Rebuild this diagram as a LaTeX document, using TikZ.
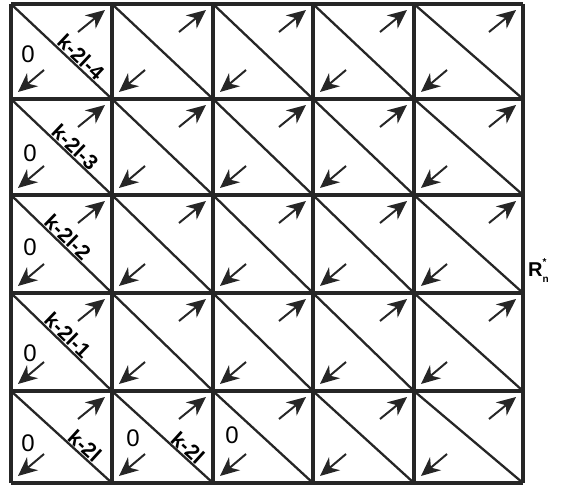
\documentclass[tikz,border=0pt]{standalone}
\usepackage{fontspec}
\setmainfont{Liberation Sans}
\usetikzlibrary{arrows.meta,calc}

\begin{document}
\begin{tikzpicture}[
        x=1pt, y=-1pt,
        gridline/.style={draw=black!85, line width=3.2pt},
        diagline/.style={draw=black!85, line width=2.3pt},
        flow/.style={draw=black!85, line width=2pt, -{Stealth[length=19pt, width=17pt, inset=6pt]}},
        zero/.style={font=\fontsize{24}{24}\selectfont, inner sep=0pt},
        idx/.style={font=\bfseries\fontsize{21}{21}\selectfont, sloped, above, inner sep=1.5pt}
    ]
    \useasboundingbox (0,0) rectangle (572,486);

    % Grid corners
    \foreach \x [count=\i] in {11,112,213,313,414,523} {
      \foreach \y [count=\j] in {4,99,195,293,391,483} {
        \coordinate (c\i\j) at (\x,\y);
      }
    }

    % Cells: diagonal and the two arrows
    \foreach \i [evaluate=\i as \ni using int(\i+1)] in {1,...,5} {
      \foreach \j [evaluate=\j as \nj using int(\j+1)] in {1,...,5} {
        \draw[diagline] (c\i\j) -- (c\ni\nj);
        \draw[flow] ($(c\ni\j)+(-34,28)$) -- ($(c\ni\j)+(-7,6)$);
        \draw[flow] ($(c\i\nj)+(33,-29)$) -- ($(c\i\nj)+(7,-7)$);
      }
    }

    % Grid lines
    \foreach \i in {1,...,6}
      \draw[gridline] (c\i1) -- (c\i6);
    \foreach \j in {1,...,6}
      \draw[gridline] (c1\j) -- (c6\j);

    % Diagonal labels
    \path (c11) -- (c22) node[idx, pos=0.63] (d1) {k-2l-4};
    \path (c12) -- (c23) node[idx, pos=0.57] (d2) {k-2l-3};
    \path (c13) -- (c24) node[idx, pos=0.50] (d3) {k-2l-2};
    \path (c14) -- (c25) node[idx, pos=0.50] (d4) {k-2l-1};
    \path (c15) -- (c26) node[idx, pos=0.67] (d5) {k-2l};
    \path (c25) -- (c36) node[idx, pos=0.69] (d6) {k-2l};

    % Zeros
    \node[zero] (z1) at ($(c11)+(17,50)$) {0};
    \node[zero] (z2) at ($(c12)+(19,54)$) {0};
    \node[zero] (z3) at ($(c13)+(19,52)$) {0};
    \node[zero] (z4) at ($(c14)+(19,60)$) {0};
    \node[zero] (z5) at ($(c15)+(17,52)$) {0};
    \node[zero] (z6) at ($(c25)+(21,47)$) {0};
    \node[zero] (z7) at ($(c35)+(19,44)$) {0};

    % Right label
    \node[font=\bfseries\fontsize{20}{20}\selectfont, anchor=base west, inner sep=0pt] (rn) at (528,276)
      {R\rlap{\raisebox{-0.3em}{\fontsize{10}{10}\selectfont n}}\raisebox{0.55em}{\fontsize{10}{10}\selectfont *}};
\end{tikzpicture}
\end{document}
